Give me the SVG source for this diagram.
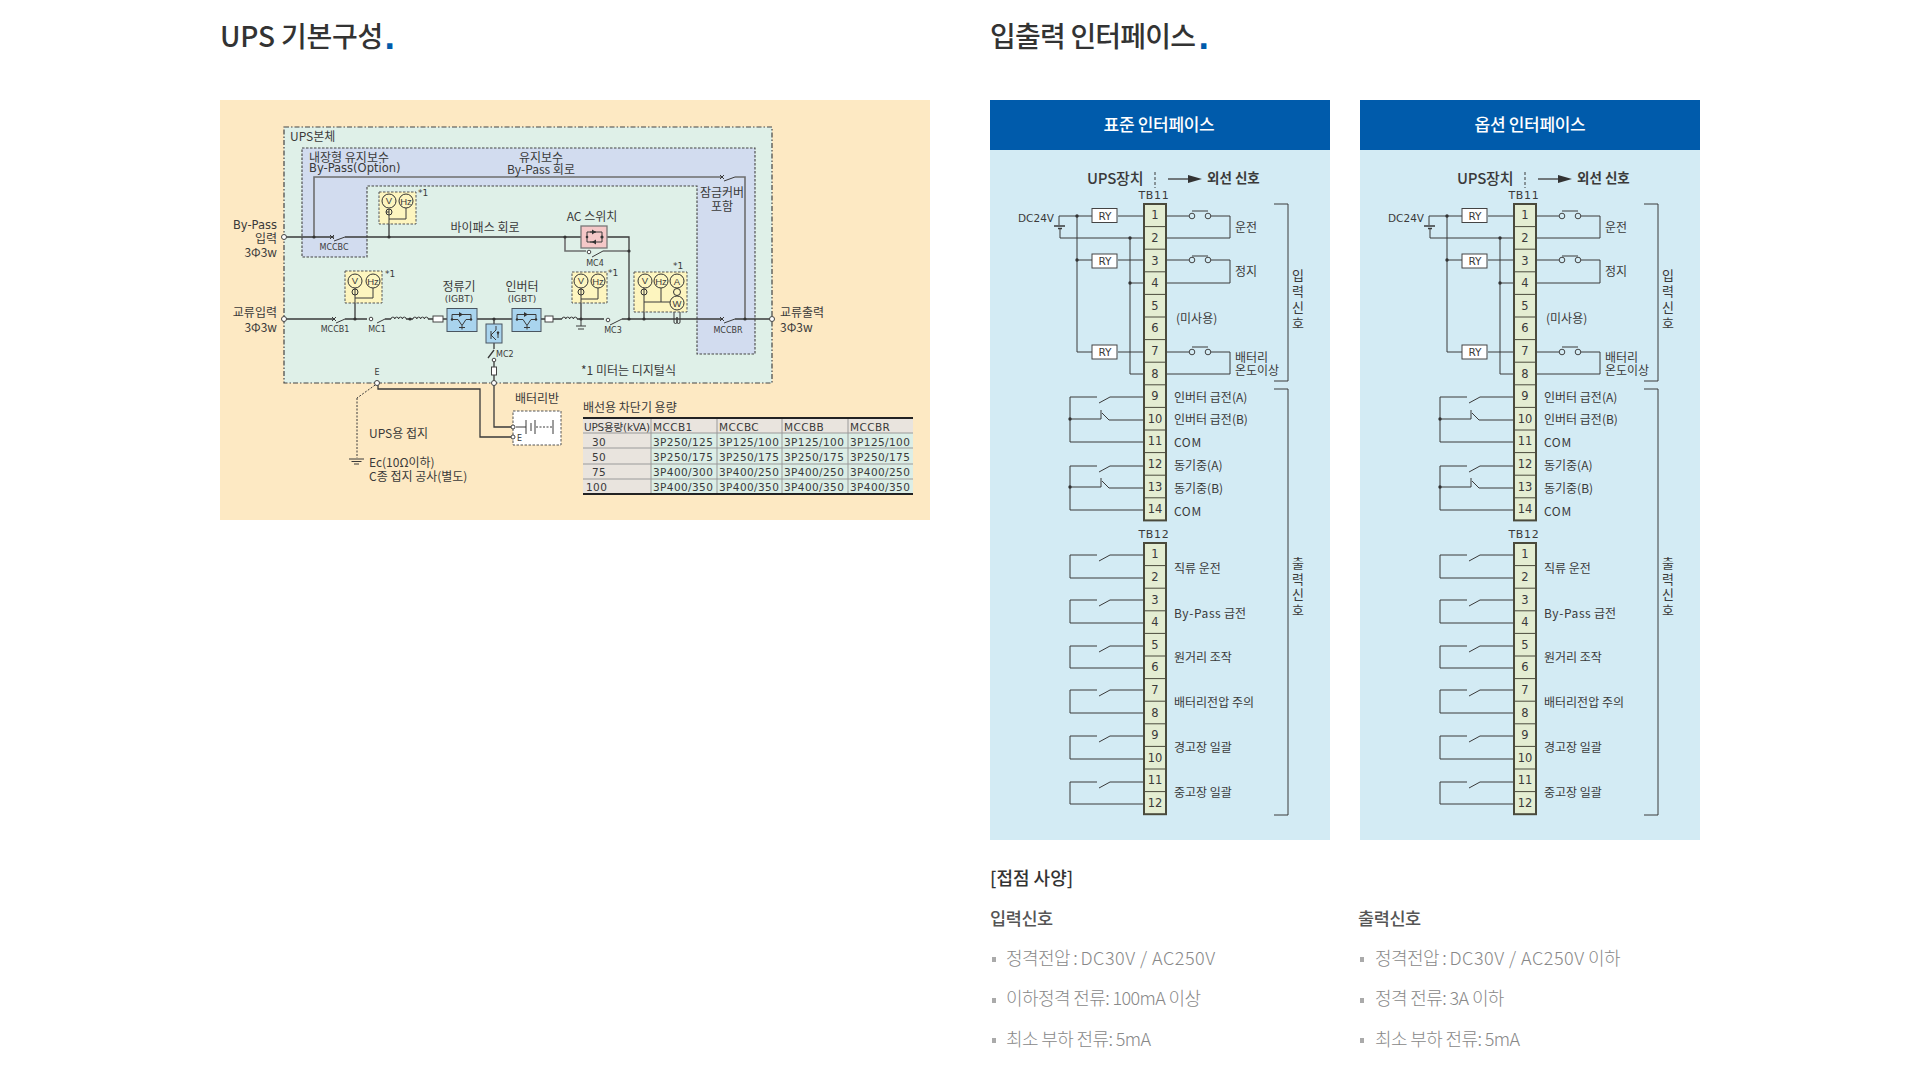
<svg xmlns="http://www.w3.org/2000/svg" width="1920" height="1081" viewBox="0 0 1920 1081">
<style>
text{font-family:"Noto Sans CJK KR","Noto Sans",sans-serif;dominant-baseline:central;fill:#3a3a3a}
.h1{font-size:28px;font-weight:500;fill:#333;letter-spacing:-.8px}
.dot{font-family:"DejaVu Sans",sans-serif;font-size:30px;font-weight:700;fill:#005bab;dominant-baseline:alphabetic}
.hd{font-size:17px;font-weight:500;fill:#fff;text-anchor:middle;letter-spacing:-.3px}
.s12{font-size:12px}
.s13{font-size:13px}
.m{text-anchor:middle}
.e{text-anchor:end}
.lat{font-family:"DejaVu Sans","Noto Sans CJK KR",sans-serif}
.s8{font-size:8px}
.s9{font-size:9px}
.ryt{font-family:"DejaVu Sans",sans-serif;font-size:10.5px;text-anchor:middle}
.dc{font-family:"DejaVu Sans",sans-serif;font-size:10.5px;text-anchor:end}
.wide{letter-spacing:.6px}
.tb{font-family:"DejaVu Sans","Noto Sans CJK KR",sans-serif;font-size:10.5px;letter-spacing:.4px}
.num{font-family:"DejaVu Sans",sans-serif;font-size:11.5px;text-anchor:middle}
.mt{font-family:"Liberation Sans",sans-serif;font-size:9.5px;text-anchor:middle}
.sub{font-size:17.5px;font-weight:500;fill:#555;letter-spacing:-.4px}
.it{font-size:18px;font-weight:300;fill:#888;letter-spacing:-.6px}
.itl{letter-spacing:.5px}
.w{fill:none;stroke:#3a3a3a;stroke-width:1}
.w2{fill:none;stroke:#3a3a3a;stroke-width:1.3}
.g{fill:none;stroke:#6e6e6e;stroke-width:1.6}
.d{fill:#333}
.c{fill:#fff;stroke:#444;stroke-width:1}
.mb{fill:#fdf5bf;stroke:#555;stroke-width:1;stroke-dasharray:2.5 1.5}
.mc{fill:#fdf5bf;stroke:#333;stroke-width:1}
.bx{fill:#a9d4ee;stroke:#4a5560;stroke-width:1}
.ry{fill:#fff;stroke:#444;stroke-width:1}
.tf{fill:#e4edd2;stroke:#4a4a3c;stroke-width:2}
.tl{fill:none;stroke:#4a4a3c;stroke-width:1}
.bl{fill:#aaa}
.tr0{fill:#e9e4de}
.tr1{fill:#dceee6}
</style>
<defs>
<g id="igbt">
<path class="w" d="M5 11V6H24V11M5 11H11L15 17L19 11H24M12 19H18M15 17V21"/>
<path class="d" d="M12 3.5V8.5L16 6ZM16 3.5V8.5"/>
<circle class="d" cx="5" cy="11" r="1.2"/><circle class="d" cx="24" cy="11" r="1.2"/>
</g>
</defs>

<g id="title-left"><text class="h1" x="220" y="35" style="letter-spacing:-.2px">UPS 기본구성</text><text class="dot" x="384" y="49">.</text></g>
<g id="title-right"><text class="h1" x="990" y="35">입출력 인터페이스</text><text class="dot" x="1198" y="49">.</text></g>

<!-- left schematic -->
<g id="schematic-bg">
<rect x="220" y="100" width="710" height="420" fill="#fde9c3"/>
<rect x="284" y="127" width="488" height="256" fill="#dff0e8" stroke="#444" stroke-width="1.2" stroke-dasharray="5 2 1.5 2"/>
<path d="M302 148H755V354H697V186H367V257H302Z" fill="#d2dcef" stroke="#444" stroke-width="1.1" stroke-dasharray="2.5 1.5"/>
</g>
<g id="connectors-left">
<path class="g" d="M314 237V177H722M735 177H745V319"/>
<path class="g" d="M565 237V251H586M603 251H629"/>
<path class="w2" d="M284 237H334M345 237H581M607 237H629V319"/>
<path class="w2" d="M284 319H334M345 319H355V319H367M385 319H391M406 319H413M428 319H433M443 319H447M477 319H512M541 319H545M553 319H562M577 319H581V319H604M622 319H722M735 319H772"/>
<path class="w" d="M334 241L345 237M336 323L345 319M377 323L385 319M610 325L622 319M724 181L735 177M724 323L735 319M592 257L603 251"/>
<path class="w" d="M330 235l4 4m0-4l-4 4M332 317l4 4m0-4l-4 4M720 175l4 4m0-4l-4 4M720 317l4 4m0-4l-4 4"/>
<path class="w" d="M391 319a1.9 1.9 0 0 1 3.8 0a1.9 1.9 0 0 1 3.8 0a1.9 1.9 0 0 1 3.8 0a1.9 1.9 0 0 1 3.8 0M413 319a1.9 1.9 0 0 1 3.8 0a1.9 1.9 0 0 1 3.8 0a1.9 1.9 0 0 1 3.8 0a1.9 1.9 0 0 1 3.8 0M562 319a1.9 1.9 0 0 1 3.8 0a1.9 1.9 0 0 1 3.8 0a1.9 1.9 0 0 1 3.8 0a1.9 1.9 0 0 1 3.8 0"/>
<path class="w" d="M581 319V326M576 326H586M578 329H584"/>
<path class="w2" d="M389 224V237M355 303V319M581 303V319M644 312V319"/>
<path class="w" d="M674 312V322a1.5 1.5 0 0 0 3 0V317M677 317V322a1.5 1.5 0 0 0 3 0V312"/>
<path class="w2" d="M494 319V324M494 343V349M488 358L494 350M494 362V367M494 375V427H513M378 383V389H480V437H513"/>
<path class="w" d="M378 383L357 398" stroke-dasharray="2 1.5"/>
<path class="w" d="M357 398V458" stroke-dasharray="2 1.5"/>
<path class="w" d="M349 459H364M351.5 461.5H361.5M354 464H359"/>
<circle class="d" cx="314" cy="237" r="1.6"/><circle class="d" cx="389" cy="237" r="1.6"/><circle class="d" cx="565" cy="237" r="1.6"/><circle class="d" cx="629" cy="251" r="1.6"/><circle class="d" cx="355" cy="319" r="1.6"/><circle class="d" cx="410" cy="319" r="1.6"/><circle class="d" cx="494" cy="319" r="1.6"/><circle class="d" cx="581" cy="319" r="1.6"/><circle class="d" cx="629" cy="319" r="1.6"/><circle class="d" cx="644" cy="319" r="1.6"/><circle class="d" cx="745" cy="319" r="1.6"/>
<circle class="c" cx="284" cy="237" r="2.5"/><circle class="c" cx="284" cy="319" r="2.5"/><circle class="c" cx="772" cy="319" r="2.5"/><circle class="c" cx="377" cy="383" r="2.5"/><circle class="c" cx="494" cy="383" r="2.5"/><circle class="c" cx="371" cy="319" r="1.8"/><circle class="c" cx="608" cy="320" r="1.8"/><circle class="c" cx="589" cy="252" r="1.8"/><circle class="c" cx="494" cy="360" r="1.8"/>
<rect class="c" x="433" y="316" width="10" height="6"/><rect class="c" x="545" y="316" width="8" height="6"/><rect class="c" x="491.5" y="367" width="5" height="8"/>
</g>
<g id="meter-top">
<rect class="mb" x="379" y="192" width="37" height="32"/>
<circle class="mc" cx="389" cy="201" r="7"/><circle class="mc" cx="406" cy="201" r="7"/><circle class="mc" cx="389" cy="212" r="3"/>
<path class="w" d="M389 209V224M389 212H386M406 208V219H389"/>
<text class="mt" x="389" y="200">V</text><text class="mt" x="406" y="201">Hz</text>
<text class="s9 lat" x="418" y="193">*1</text>
</g>
<g id="meter-input">
<rect class="mb" x="345" y="271" width="37" height="32"/>
<circle class="mc" cx="355" cy="281" r="7"/><circle class="mc" cx="373" cy="281" r="7"/><circle class="mc" cx="355" cy="292" r="3"/>
<path class="w" d="M355 288V303M373 288V298H355"/>
<text class="mt" x="355" y="280">V</text><text class="mt" x="373" y="281">Hz</text>
<text class="s9 lat" x="385" y="274">*1</text>
</g>
<g id="meter-inverter">
<rect class="mb" x="572" y="272" width="35" height="31"/>
<circle class="mc" cx="581" cy="281" r="7"/><circle class="mc" cx="598" cy="281" r="7"/><circle class="mc" cx="581" cy="292" r="3"/>
<path class="w" d="M581 288V303M598 288V299H581"/>
<text class="mt" x="581" y="280">V</text><text class="mt" x="598" y="281">Hz</text>
<text class="s9 lat" x="608" y="273">*1</text>
</g>
<g id="meter-output">
<rect class="mb" x="634" y="272" width="53" height="40"/>
<circle class="mc" cx="645" cy="281" r="7"/><circle class="mc" cx="661" cy="281" r="7"/><circle class="mc" cx="677" cy="281" r="7"/><circle class="mc" cx="644" cy="292" r="3"/><circle class="mc" cx="677" cy="292" r="3.5"/><circle class="mc" cx="677" cy="303" r="7"/>
<path class="w" d="M644 288V312M661 288V302M644 302H670"/>
<text class="mt" x="645" y="280">V</text><text class="mt" x="661" y="281">Hz</text><text class="mt" x="677" y="281">A</text><text class="mt" x="677" y="303">W</text>
<text class="s9 lat" x="673" y="266">*1</text>
</g>
<g id="ac-switch">
<rect x="581" y="226" width="26" height="22" fill="#f5c8c8" stroke="#777" stroke-width="1.3"/>
<path class="w" d="M587 237V232H602V242H587V237M590 232h6M590 242h6"/>
<path class="d" d="M592 229.5V234.5L596 232ZM596 239.5V244.5L592 242Z"/>
<circle class="d" cx="587" cy="237" r="1.3"/><circle class="d" cx="602" cy="237" r="1.6"/>
<text class="s12 m" x="592" y="215.5">AC 스위치</text>
<text class="s8 lat m" x="595" y="263">MC4</text>
</g>
<g id="rectifier"><rect class="bx" x="447" y="308.5" width="30" height="23"/><use href="#igbt" x="447" y="308.5"/><text class="s12 m" x="459" y="285.5">정류기<tspan class="s9 lat" x="459" dy="13">(IGBT)</tspan></text></g>
<g id="inverter"><rect class="bx" x="512" y="308.5" width="29" height="23"/><use href="#igbt" x="512" y="308.5"/><text class="s12 m" x="522" y="285.5">인버터<tspan class="s9 lat" x="522" dy="13">(IGBT)</tspan></text></g>
<g id="chopper"><rect class="bx" x="486" y="324" width="16" height="19"/><path class="w" d="M491 331V339M491 335L496 330V326M491 335L496 340M498 331V338"/><path class="d" d="M496.5 332H499.5L498 335Z"/><text class="s8 lat" x="496" y="354">MC2</text></g>
<g id="battery">
<rect x="513" y="411" width="48" height="34" fill="#fff" stroke="#555" stroke-dasharray="2.5 1.5"/>
<path class="w" d="M516 427H526M526 420V434M531 423V431M535 420V434M553 420V434"/>
<path class="w" d="M536 427H552" stroke-dasharray="2 1.5"/>
<circle class="c" cx="513" cy="427" r="2"/><circle class="c" cx="513" cy="437" r="2"/>
<text class="s8 lat" x="517" y="438">E</text>
<text class="s12 m" x="537" y="397.5">배터리반</text>
</g>
<g id="schematic-labels" transform="translate(0 -1.5)">
<text class="s12" x="290" y="137">UPS본체</text>
<text class="s12" x="309" y="157.500">내장형 유지보수<tspan class="lat" x="309" dy="12" style="font-size:11.5px">By-Pass(Option)</tspan></text>
<text class="s12 m" x="541" y="157.500">유지보수<tspan x="541" dy="12">By-Pass 회로</tspan></text>
<text class="s12 m" x="485" y="228">바이패스 회로</text>
<text class="s12 m" x="722" y="193">잠금커버<tspan x="722" dy="13">포함</tspan></text>
<text class="s12 e" x="277" y="226"><tspan class="lat" style="font-size:11.5px">By-Pass</tspan><tspan x="277" dy="12">입력</tspan><tspan x="277" dy="14">3Φ3w</tspan></text>
<text class="s12 e" x="277" y="313">교류입력<tspan x="277" dy="14">3Φ3w</tspan></text>
<text class="s12" x="780" y="313">교류출력<tspan x="780" dy="14">3Φ3w</tspan></text>
<text class="s8 lat m" x="334" y="249">MCCBC</text>
<text class="s8 lat m" x="335" y="331">MCCB1</text>
<text class="s8 lat m" x="377" y="331">MC1</text>
<text class="s8 lat m" x="613" y="332">MC3</text>
<text class="s8 lat m" x="728" y="332">MCCBR</text>
<text class="s8 lat m" x="377" y="374">E</text>
<text class="s12" x="581" y="371">*1 미터는 디지털식</text>
<text class="s12" x="369" y="434">UPS용 접지</text>
<text class="s12" x="369" y="463">Ec(10Ω이하)<tspan x="369" dy="13">C종 접지 공사(별도)</tspan></text>
</g>
<g id="breaker-table">
<text class="s12" x="583" y="406">배선용 차단기 용량</text>
<rect class="tr0" x="583" y="418" width="330" height="15"/>
<rect class="tr0" x="583" y="433" width="68" height="61"/>
<rect class="tr1" x="651" y="433" width="262" height="15"/>
<rect class="tr1" x="651" y="448" width="262" height="16"/>
<rect class="tr1" x="651" y="464" width="262" height="15"/>
<rect class="tr1" x="651" y="479" width="262" height="15"/>
<path d="M583 433H913M583 448H913M583 464H913M583 479H913M651 418V494M717 418V494M782 418V494M848 418V494" fill="none" stroke="#9a9a9a" stroke-width="1"/>
<path d="M583 418H913M583 494H913" fill="none" stroke="#222" stroke-width="1.8"/>
<text class="tb" x="584" y="426.500" style="letter-spacing:-.2px">UPS용량(kVA)</text><text class="tb" x="653" y="426.500">MCCB1</text><text class="tb" x="719" y="426.500">MCCBC</text><text class="tb" x="784" y="426.500">MCCBB</text><text class="tb" x="850" y="426.500">MCCBR</text>
<text class="tb" x="592" y="441.500">30</text><text class="tb" x="653" y="441.500">3P250/125</text><text class="tb" x="719" y="441.500">3P125/100</text><text class="tb" x="784" y="441.500">3P125/100</text><text class="tb" x="850" y="441.500">3P125/100</text>
<text class="tb" x="592" y="456.500">50</text><text class="tb" x="653" y="456.500">3P250/175</text><text class="tb" x="719" y="456.500">3P250/175</text><text class="tb" x="784" y="456.500">3P250/175</text><text class="tb" x="850" y="456.500">3P250/175</text>
<text class="tb" x="592" y="471.500">75</text><text class="tb" x="653" y="471.500">3P400/300</text><text class="tb" x="719" y="471.500">3P400/250</text><text class="tb" x="784" y="471.500">3P400/250</text><text class="tb" x="850" y="471.500">3P400/250</text>
<text class="tb" x="586" y="486.500">100</text><text class="tb" x="653" y="486.500">3P400/350</text><text class="tb" x="719" y="486.500">3P400/350</text><text class="tb" x="784" y="486.500">3P400/350</text><text class="tb" x="850" y="486.500">3P400/350</text>
</g>

<!-- standard interface panel -->
<g id="panel-standard">
<rect x="990" y="100" width="340" height="740" fill="#d3ebf4"/>
<rect x="990" y="100" width="340" height="50" fill="#005bab"/>
<text class="hd" x="1159" y="123">표준 인터페이스</text>
<text class="s13" x="1087" y="177" style="font-size:15px;font-weight:500;letter-spacing:-.2px">UPS장치</text>
<path class="w" d="M1155 172V188" stroke-dasharray="3 2"/>
<path class="w2" d="M1168 179H1190"/><path class="d" d="M1188 175L1202 179L1188 183Z"/>
<text class="s13" x="1207" y="177" style="font-weight:700;font-size:13.5px">외선 신호</text>
<text class="lat m" x="1154" y="195" style="font-size:11px;letter-spacing:.7px">TB11</text>
<text class="lat m" x="1154" y="534" style="font-size:11px;letter-spacing:.7px">TB12</text>
<g id="std-connectors">
<path class="w" d="M1059 216H1092M1118 216H1144M1059 216V225M1060 229V238H1144M1077 216V352H1092M1077 260H1092M1118 260H1144M1118 352H1144M1130 238V374H1144M1130 283H1144"/>
<path class="w2" d="M1054 226H1065M1058 228.5H1062"/>
<path class="w" d="M1166 216H1189M1211 216H1230V238H1166M1192 211H1208M1166 260H1189M1211 260H1230V283H1166M1192 256H1208M1166 352H1189M1211 352H1230V374H1166M1192 347H1208"/>
<path class="w" d="M1144 397H1110L1099 403M1097 397H1070V442H1144M1070 419H1101V410M1102 413L1109 420H1144M1144 466H1110L1099 472M1097 466H1070V510H1144M1070 487H1101V478M1102 481L1109 488H1144"/>
<path class="w" d="M1144 555H1110L1099 561M1097 555H1070V578H1144M1144 600H1110L1099 606M1097 600H1070V623H1144M1144 646H1110L1099 652M1097 646H1070V668H1144M1144 690H1110L1099 696M1097 690H1070V713H1144M1144 736H1110L1099 742M1097 736H1070V759H1144M1144 782H1110L1099 788M1097 782H1070V804H1144"/>
<path class="w" d="M1274 204H1288V381H1274M1274 389H1288V815H1274"/>
<circle class="d" cx="1077" cy="216" r="1.7"/><circle class="d" cx="1077" cy="260" r="1.7"/><circle class="d" cx="1130" cy="238" r="1.7"/><circle class="d" cx="1130" cy="283" r="1.7"/><circle class="d" cx="1070" cy="419" r="1.7"/><circle class="d" cx="1070" cy="487" r="1.7"/>
<g fill="#d3ebf4" stroke="#444"><circle cx="1192" cy="216" r="2.8"/><circle cx="1208" cy="216" r="2.8"/><circle cx="1192" cy="260" r="2.8"/><circle cx="1208" cy="260" r="2.8"/><circle cx="1192" cy="352" r="2.8"/><circle cx="1208" cy="352" r="2.8"/></g>
</g>
<g id="std-relays"><rect class="ry" x="1092" y="208.5" width="25" height="14"/><rect class="ry" x="1092" y="254" width="25" height="14"/><rect class="ry" x="1092" y="345" width="25" height="14"/><text class="ryt" x="1105" y="216">RY</text><text class="ryt" x="1105" y="261">RY</text><text class="ryt" x="1105" y="352">RY</text></g>
<g id="std-tb11">
<rect class="tf" x="1144" y="204" width="22" height="316.4"/>
<path class="tl" d="M1144 226.6h22M1144 249.2h22M1144 271.8h22M1144 294.4h22M1144 317h22M1144 339.6h22M1144 362.2h22M1144 384.8h22M1144 407.4h22M1144 430h22M1144 452.6h22M1144 475.2h22M1144 497.8h22"/>
<text class="num" x="1155" y="215.3">1</text><text class="num" x="1155" y="237.9">2</text><text class="num" x="1155" y="260.5">3</text><text class="num" x="1155" y="283.1">4</text><text class="num" x="1155" y="305.7">5</text><text class="num" x="1155" y="328.3">6</text><text class="num" x="1155" y="350.9">7</text><text class="num" x="1155" y="373.5">8</text><text class="num" x="1155" y="396.1">9</text><text class="num" x="1155" y="418.7">10</text><text class="num" x="1155" y="441.3">11</text><text class="num" x="1155" y="463.9">12</text><text class="num" x="1155" y="486.5">13</text><text class="num" x="1155" y="509.1">14</text>
</g>
<g id="std-tb12">
<rect class="tf" x="1144" y="543" width="22" height="271.2"/>
<path class="tl" d="M1144 565.6h22M1144 588.2h22M1144 610.8h22M1144 633.4h22M1144 656h22M1144 678.6h22M1144 701.2h22M1144 723.8h22M1144 746.4h22M1144 769h22M1144 791.6h22"/>
<text class="num" x="1155" y="554.3">1</text><text class="num" x="1155" y="576.9">2</text><text class="num" x="1155" y="599.5">3</text><text class="num" x="1155" y="622.1">4</text><text class="num" x="1155" y="644.7">5</text><text class="num" x="1155" y="667.3">6</text><text class="num" x="1155" y="689.9">7</text><text class="num" x="1155" y="712.5">8</text><text class="num" x="1155" y="735.1">9</text><text class="num" x="1155" y="757.7">10</text><text class="num" x="1155" y="780.3">11</text><text class="num" x="1155" y="802.9">12</text>
</g>
<g id="std-labels" transform="translate(0 -1)">
<text class="dc" x="1054" y="219">DC24V</text>
<text class="s12" x="1235" y="227">운전</text><text class="s12" x="1235" y="271">정지</text><text class="s12" x="1176" y="318">(미사용)</text><text class="s12" x="1235" y="357">배터리<tspan x="1235" dy="13">온도이상</tspan></text>
<text class="s12" x="1174" y="397">인버터 급전(A)</text><text class="s12" x="1174" y="419">인버터 급전(B)</text><text class="s12 wide" x="1174" y="442">COM</text><text class="s12" x="1174" y="465">동기중(A)</text><text class="s12" x="1174" y="488">동기중(B)</text><text class="s12 wide" x="1174" y="511">COM</text>
<text class="s12" x="1174" y="568">직류 운전</text><text class="s12" x="1174" y="613"><tspan class="wide">By-Pass</tspan> 급전</text><text class="s12" x="1174" y="657">원거리 조작</text><text class="s12" x="1174" y="702">배터리전압 주의</text><text class="s12" x="1174" y="747">경고장 일괄</text><text class="s12" x="1174" y="792">중고장 일괄</text>
<text class="s13 m" x="1298" y="275">입<tspan x="1298" dy="16">력</tspan><tspan x="1298" dy="16">신</tspan><tspan x="1298" dy="16">호</tspan></text>
<text class="s13 m" x="1298" y="563">출<tspan x="1298" dy="15.5">력</tspan><tspan x="1298" dy="15.5">신</tspan><tspan x="1298" dy="15.5">호</tspan></text>
</g>
</g>

<!-- option interface panel -->
<g id="panel-option" transform="translate(370 0)">
<rect x="990" y="100" width="340" height="740" fill="#d3ebf4"/>
<rect x="990" y="100" width="340" height="50" fill="#005bab"/>
<text class="hd" x="1160" y="123">옵션 인터페이스</text>
<text class="s13" x="1087" y="177" style="font-size:15px;font-weight:500;letter-spacing:-.2px">UPS장치</text>
<path class="w" d="M1155 172V188" stroke-dasharray="3 2"/>
<path class="w2" d="M1168 179H1190"/><path class="d" d="M1188 175L1202 179L1188 183Z"/>
<text class="s13" x="1207" y="177" style="font-weight:700;font-size:13.5px">외선 신호</text>
<text class="lat m" x="1154" y="195" style="font-size:11px;letter-spacing:.7px">TB11</text>
<text class="lat m" x="1154" y="534" style="font-size:11px;letter-spacing:.7px">TB12</text>
<g id="opt-connectors">
<path class="w" d="M1059 216H1092M1118 216H1144M1059 216V225M1060 229V238H1144M1077 216V352H1092M1077 260H1092M1118 260H1144M1118 352H1144M1130 238V374H1144M1130 283H1144"/>
<path class="w2" d="M1054 226H1065M1058 228.5H1062"/>
<path class="w" d="M1166 216H1189M1211 216H1230V238H1166M1192 211H1208M1166 260H1189M1211 260H1230V283H1166M1192 256H1208M1166 352H1189M1211 352H1230V374H1166M1192 347H1208"/>
<path class="w" d="M1144 397H1110L1099 403M1097 397H1070V442H1144M1070 419H1101V410M1102 413L1109 420H1144M1144 466H1110L1099 472M1097 466H1070V510H1144M1070 487H1101V478M1102 481L1109 488H1144"/>
<path class="w" d="M1144 555H1110L1099 561M1097 555H1070V578H1144M1144 600H1110L1099 606M1097 600H1070V623H1144M1144 646H1110L1099 652M1097 646H1070V668H1144M1144 690H1110L1099 696M1097 690H1070V713H1144M1144 736H1110L1099 742M1097 736H1070V759H1144M1144 782H1110L1099 788M1097 782H1070V804H1144"/>
<path class="w" d="M1274 204H1288V381H1274M1274 389H1288V815H1274"/>
<circle class="d" cx="1077" cy="216" r="1.7"/><circle class="d" cx="1077" cy="260" r="1.7"/><circle class="d" cx="1130" cy="238" r="1.7"/><circle class="d" cx="1130" cy="283" r="1.7"/><circle class="d" cx="1070" cy="419" r="1.7"/><circle class="d" cx="1070" cy="487" r="1.7"/>
<g fill="#d3ebf4" stroke="#444"><circle cx="1192" cy="216" r="2.8"/><circle cx="1208" cy="216" r="2.8"/><circle cx="1192" cy="260" r="2.8"/><circle cx="1208" cy="260" r="2.8"/><circle cx="1192" cy="352" r="2.8"/><circle cx="1208" cy="352" r="2.8"/></g>
</g>
<g id="opt-relays"><rect class="ry" x="1092" y="208.5" width="25" height="14"/><rect class="ry" x="1092" y="254" width="25" height="14"/><rect class="ry" x="1092" y="345" width="25" height="14"/><text class="ryt" x="1105" y="216">RY</text><text class="ryt" x="1105" y="261">RY</text><text class="ryt" x="1105" y="352">RY</text></g>
<g id="opt-tb11">
<rect class="tf" x="1144" y="204" width="22" height="316.4"/>
<path class="tl" d="M1144 226.6h22M1144 249.2h22M1144 271.8h22M1144 294.4h22M1144 317h22M1144 339.6h22M1144 362.2h22M1144 384.8h22M1144 407.4h22M1144 430h22M1144 452.6h22M1144 475.2h22M1144 497.8h22"/>
<text class="num" x="1155" y="215.3">1</text><text class="num" x="1155" y="237.9">2</text><text class="num" x="1155" y="260.5">3</text><text class="num" x="1155" y="283.1">4</text><text class="num" x="1155" y="305.7">5</text><text class="num" x="1155" y="328.3">6</text><text class="num" x="1155" y="350.9">7</text><text class="num" x="1155" y="373.5">8</text><text class="num" x="1155" y="396.1">9</text><text class="num" x="1155" y="418.7">10</text><text class="num" x="1155" y="441.3">11</text><text class="num" x="1155" y="463.9">12</text><text class="num" x="1155" y="486.5">13</text><text class="num" x="1155" y="509.1">14</text>
</g>
<g id="opt-tb12">
<rect class="tf" x="1144" y="543" width="22" height="271.2"/>
<path class="tl" d="M1144 565.6h22M1144 588.2h22M1144 610.8h22M1144 633.4h22M1144 656h22M1144 678.6h22M1144 701.2h22M1144 723.8h22M1144 746.4h22M1144 769h22M1144 791.6h22"/>
<text class="num" x="1155" y="554.3">1</text><text class="num" x="1155" y="576.9">2</text><text class="num" x="1155" y="599.5">3</text><text class="num" x="1155" y="622.1">4</text><text class="num" x="1155" y="644.7">5</text><text class="num" x="1155" y="667.3">6</text><text class="num" x="1155" y="689.9">7</text><text class="num" x="1155" y="712.5">8</text><text class="num" x="1155" y="735.1">9</text><text class="num" x="1155" y="757.7">10</text><text class="num" x="1155" y="780.3">11</text><text class="num" x="1155" y="802.9">12</text>
</g>
<g id="opt-labels" transform="translate(0 -1)">
<text class="dc" x="1054" y="219">DC24V</text>
<text class="s12" x="1235" y="227">운전</text><text class="s12" x="1235" y="271">정지</text><text class="s12" x="1176" y="318">(미사용)</text><text class="s12" x="1235" y="357">배터리<tspan x="1235" dy="13">온도이상</tspan></text>
<text class="s12" x="1174" y="397">인버터 급전(A)</text><text class="s12" x="1174" y="419">인버터 급전(B)</text><text class="s12 wide" x="1174" y="442">COM</text><text class="s12" x="1174" y="465">동기중(A)</text><text class="s12" x="1174" y="488">동기중(B)</text><text class="s12 wide" x="1174" y="511">COM</text>
<text class="s12" x="1174" y="568">직류 운전</text><text class="s12" x="1174" y="613"><tspan class="wide">By-Pass</tspan> 급전</text><text class="s12" x="1174" y="657">원거리 조작</text><text class="s12" x="1174" y="702">배터리전압 주의</text><text class="s12" x="1174" y="747">경고장 일괄</text><text class="s12" x="1174" y="792">중고장 일괄</text>
<text class="s13 m" x="1298" y="275">입<tspan x="1298" dy="16">력</tspan><tspan x="1298" dy="16">신</tspan><tspan x="1298" dy="16">호</tspan></text>
<text class="s13 m" x="1298" y="563">출<tspan x="1298" dy="15.5">력</tspan><tspan x="1298" dy="15.5">신</tspan><tspan x="1298" dy="15.5">호</tspan></text>
</g>
</g>

<g id="contact-spec">
<text x="990" y="877" style="font-size:18px;font-weight:500;fill:#333">[접점 사양]</text>
<text class="sub" x="990" y="917">입력신호</text>
<text class="sub" x="1358" y="917">출력신호</text>
<rect class="bl" x="992" y="957" width="4" height="5"/><text class="it" x="1006" y="957">정격전압 : <tspan class="itl">DC30V / AC250V</tspan></text>
<rect class="bl" x="992" y="998" width="4" height="5"/><text class="it" x="1006" y="997">이하정격 전류: 100mA 이상</text>
<rect class="bl" x="992" y="1038" width="4" height="5"/><text class="it" x="1006" y="1038">최소 부하 전류: 5mA</text>
<rect class="bl" x="1360" y="957" width="4" height="5"/><text class="it" x="1375" y="957">정격전압 : <tspan class="itl">DC30V / AC250V</tspan> 이하</text>
<rect class="bl" x="1360" y="998" width="4" height="5"/><text class="it" x="1375" y="997">정격 전류: 3A 이하</text>
<rect class="bl" x="1360" y="1038" width="4" height="5"/><text class="it" x="1375" y="1038">최소 부하 전류: 5mA</text>
</g>
</svg>
